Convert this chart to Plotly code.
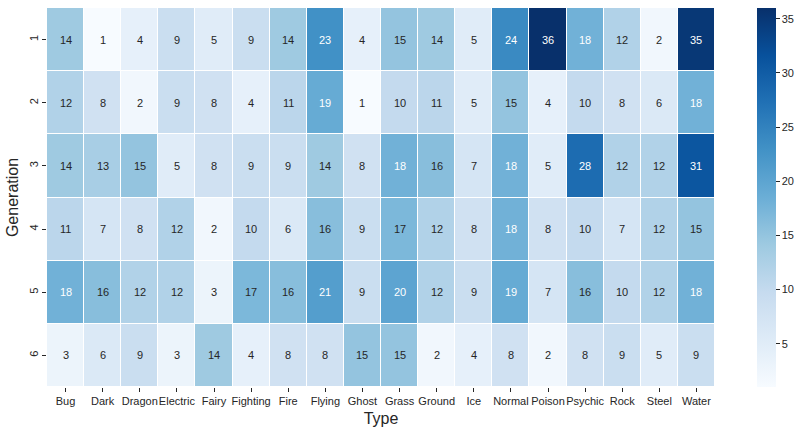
import plotly.graph_objects as go

types = ["Bug", "Dark", "Dragon", "Electric", "Fairy", "Fighting", "Fire", "Flying",
         "Ghost", "Grass", "Ground", "Ice", "Normal", "Poison", "Psychic", "Rock",
         "Steel", "Water"]
generations = ["1", "2", "3", "4", "5", "6"]

gen1 = [14, 1, 4, 9, 5, 9, 14, 23, 4, 15, 14, 5, 24, 36, 18, 12, 2, 35]
gen2 = [12, 8, 2, 9, 8, 4, 11, 19, 1, 10, 11, 5, 15, 4, 10, 8, 6, 18]
gen3 = [14, 13, 15, 5, 8, 9, 9, 14, 8, 18, 16, 7, 18, 5, 28, 12, 12, 31]
gen4 = [11, 7, 8, 12, 2, 10, 6, 16, 9, 17, 12, 8, 18, 8, 10, 7, 12, 15]
gen5 = [18, 16, 12, 12, 3, 17, 16, 21, 9, 20, 12, 9, 19, 7, 16, 10, 12, 18]
gen6 = [3, 6, 9, 3, 14, 4, 8, 8, 15, 15, 2, 4, 8, 2, 8, 9, 5, 9]

z = [gen1, gen2, gen3, gen4, gen5, gen6]

FONT = "Liberation Sans, Arial, sans-serif"

fig = go.Figure(go.Heatmap(
    z=z, x=types, y=generations,
    colorscale="Blues", zmin=1, zmax=36,
    xgap=1, ygap=1,
    colorbar=dict(
        x=1.063, xanchor="left", y=0.5, yanchor="middle",
        len=1, lenmode="fraction", thickness=19,
        outlinewidth=0, ypad=0, xpad=0,
        tickvals=[5, 10, 15, 20, 25, 30, 35],
        ticks="outside", ticklen=4, tickwidth=1, tickcolor="#262626",
        tickfont=dict(family=FONT, size=11, color="#262626"),
    ),
    hoverinfo="skip",
))

annotations = []
for gi, row in enumerate(z):
    for ti, v in enumerate(row):
        annotations.append(dict(
            x=ti, y=gi, xref="x", yref="y",
            text=str(v), showarrow=False,
            font=dict(family=FONT, size=11,
                      color="white" if v >= 18 else "#262626"),
        ))

fig.update_layout(
    width=805, height=433,
    margin=dict(l=47, r=90, t=8, b=46, autoexpand=False),
    plot_bgcolor="white", paper_bgcolor="white",
    annotations=annotations,
    xaxis=dict(
        type="category", automargin=True,
        title=dict(text="Type", font=dict(family=FONT, size=16, color="#262626"), standoff=6),
        ticks="outside", ticklen=4, tickwidth=1, tickcolor="#262626",
        tickfont=dict(family=FONT, size=11, color="#262626"),
        showgrid=False, zeroline=False, tickangle=0, showline=False,
    ),
    yaxis=dict(
        type="category", automargin=True,
        title=dict(text="Generation", font=dict(family=FONT, size=16, color="#262626"), standoff=4),
        ticks="outside", ticklen=4, tickwidth=1, tickcolor="#262626",
        tickfont=dict(family=FONT, size=11, color="#262626"),
        showgrid=False, zeroline=False, autorange="reversed", tickangle=-90,
        showline=False,
    ),
)

fig.write_html("out.html", config={"displayModeBar": False},
               post_script="document.body.style.margin='0';")
